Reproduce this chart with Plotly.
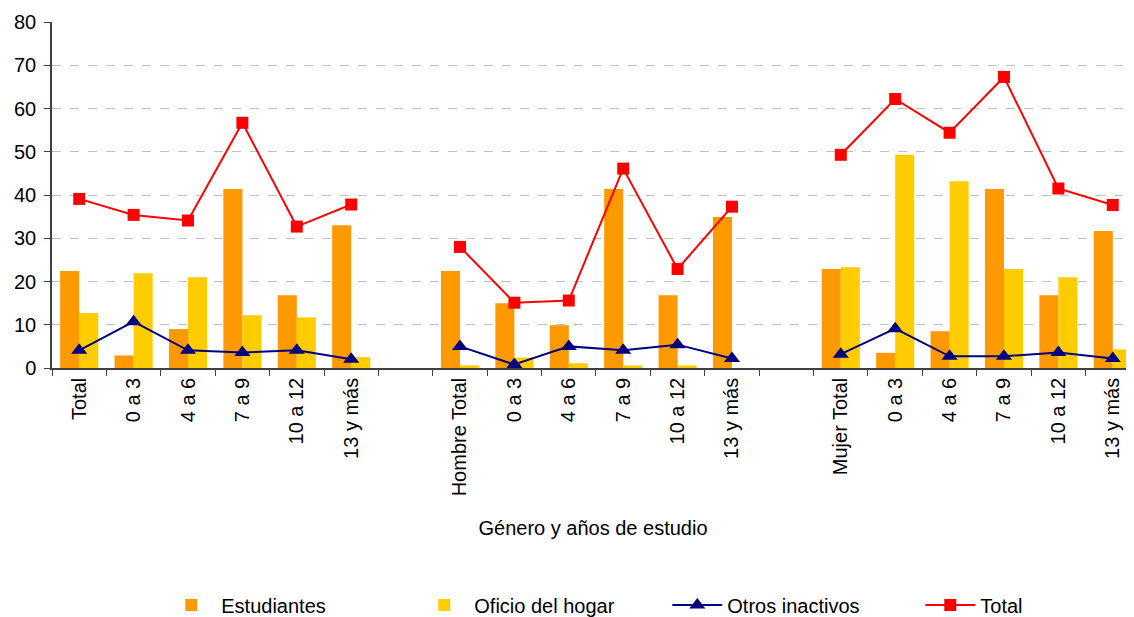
import plotly.graph_objects as go

labels = ["Total", "0 a 3", "4 a 6", "7 a 9", "10 a 12", "13 y más", "",
          "Hombre Total", "0 a 3", "4 a 6", "7 a 9", "10 a 12", "13 y más", "",
          "Mujer Total", "0 a 3", "4 a 6", "7 a 9", "10 a 12", "13 y más"]
estudiantes = [22.4, 2.9, 9.0, 41.4, 16.8, 33.0, None,
               22.4, 15.0, 9.9, 41.4, 16.8, 34.9, None,
               22.9, 3.5, 8.5, 41.4, 16.8, 31.7]
oficio_hogar = [12.7, 21.9, 21.0, 12.2, 11.7, 2.5, None,
                0.6, 2.4, 1.1, 0.6, 0.6, 0.0, None,
                23.3, 49.3, 43.2, 22.9, 21.0, 4.3]
otros_inactivos = [4.1, 10.7, 4.1, 3.6, 4.1, 2.0, None,
                   5.0, 0.8, 5.0, 4.1, 5.4, 2.2, None,
                   3.2, 9.1, 2.7, 2.7, 3.6, 2.2]
total = [39.1, 35.4, 34.1, 56.7, 32.7, 37.8, None,
         28.0, 15.1, 15.6, 46.1, 22.9, 37.3, None,
         49.3, 62.2, 54.4, 67.3, 41.5, 37.7]

pos = list(range(len(labels)))
FONT = "Liberation Sans, Arial, sans-serif"

fig = go.Figure()
fig.add_trace(go.Bar(x=pos, y=estudiantes, name="Estudiantes",
                     marker=dict(color="#FF9900", line=dict(width=0))))
fig.add_trace(go.Bar(x=pos, y=oficio_hogar, name="Oficio del hogar",
                     marker=dict(color="#FFCC00", line=dict(width=0))))
fig.add_trace(go.Scatter(x=pos, y=otros_inactivos, name="Otros inactivos",
                         mode="lines+markers", connectgaps=False,
                         line=dict(color="#000080", width=2),
                         marker=dict(symbol="triangle-up", size=14, color="#000080")))
fig.add_trace(go.Scatter(x=pos, y=total, name="Total",
                         mode="lines+markers", connectgaps=False,
                         line=dict(color="#FF0000", width=2),
                         marker=dict(symbol="square", size=12, color="#FF0000")))

# page body has an 8px margin, so the figure is sized to fill the rest of the window
fig.update_layout(
    width=1126, height=609,
    margin=dict(l=44, r=0, t=14, b=249, autoexpand=False),
    paper_bgcolor="white", plot_bgcolor="white",
    font=dict(family=FONT, size=20, color="black"),
    barmode="group", bargap=0.30, bargroupgap=0,
    showlegend=True,
    legend=dict(orientation="h", x=0.101, xanchor="left", y=-0.685, yanchor="middle",
                font=dict(size=20), itemwidth=50, traceorder="normal",
                entrywidth=188, entrywidthmode="pixels"),
    xaxis=dict(type="category", tickmode="array", tickvals=pos, ticktext=labels,
               tickangle=-90, tickson="boundaries", ticks="outside", ticklen=6,
               tickcolor="#404040", showline=True, linecolor="#404040", linewidth=1.5,
               showgrid=False, range=[-0.5, 19.39], automargin=False,
               title=dict(text="Género y años de estudio", standoff=26,
                          font=dict(size=20))),
    yaxis=dict(range=[0, 80], dtick=10, ticks="outside", ticklen=6, tickcolor="#404040",
               showline=True, linecolor="#404040", linewidth=1.5,
               showgrid=True, gridcolor="#C0C0C0", griddash="dash", gridwidth=1,
               zeroline=False, ticklabelstandoff=4, automargin=False),
)

fig.write_html("out.html")
